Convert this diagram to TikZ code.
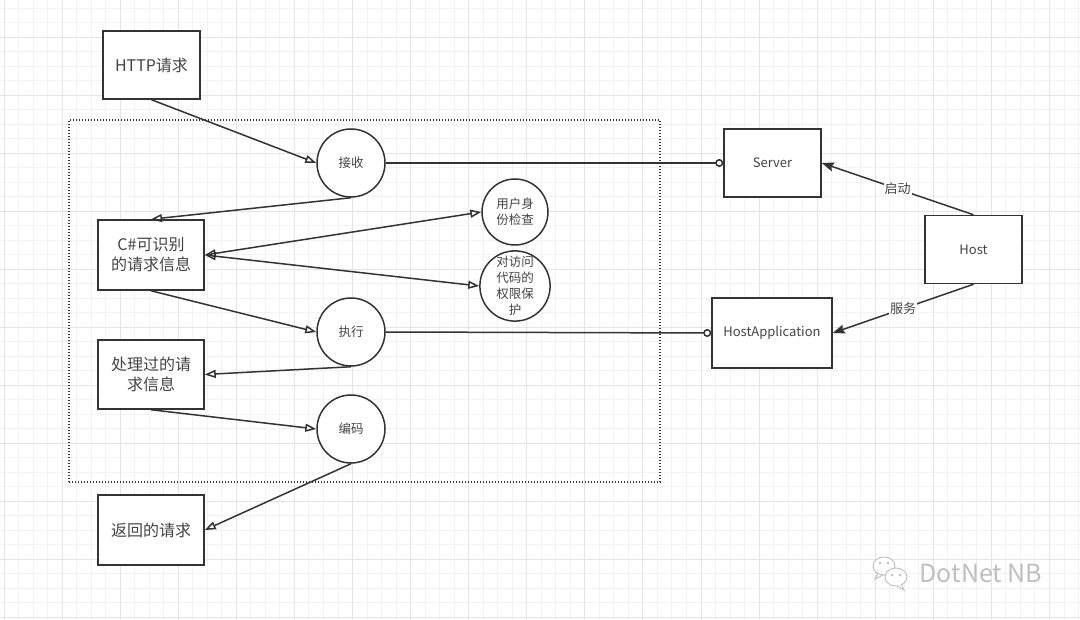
\documentclass[tikz,border=0pt]{standalone}
\usepackage{fontspec}
\setmainfont{Noto Sans CJK SC}
\usetikzlibrary{arrows.meta}
\definecolor{ink}{HTML}{333333}
\definecolor{txt}{HTML}{444444}
\definecolor{gminor}{HTML}{F2F2F2}
\definecolor{gmajor}{HTML}{E4E4E4}
\begin{document}
\begin{tikzpicture}[x=1pt,y=-1pt,
  box/.style={draw=ink, line width=1.5pt, fill=white, text=txt, inner sep=0pt, align=center},
  bigbox/.style={box, minimum width=106, minimum height=70, font=\fontsize{16}{20}\selectfont},
  sbox/.style={box, minimum width=97, minimum height=68, font=\fontsize{13}{16}\selectfont},
  proc/.style={circle, draw=ink, line width=1.5pt, fill=white, text=txt, inner sep=0pt, minimum size=68, align=center, font=\fontsize{12.5}{16}\selectfont},
  flow/.style={draw=ink, line width=1.5pt, -{Triangle[open, length=11pt, width=8pt]}},
  both/.style={draw=ink, line width=1.5pt, {Triangle[open, length=11pt, width=8pt]}-{Triangle[open, length=11pt, width=8pt]}},
  link/.style={draw=ink, line width=1.5pt, -{Circle[open, length=8pt]}},
  push/.style={draw=ink, line width=1.5pt, -{Stealth[inset=1.5pt, length=12pt, width=9pt]}},
  lbl/.style={fill=white, inner sep=1pt, text=txt, font=\fontsize{13}{15}\selectfont},
  frame/.style={draw=ink, line width=1.4pt, dash pattern=on 1.4pt off 1.6pt}
]
\useasboundingbox (0,0) rectangle (1080,620);
\fill[white] (0,0) rectangle (1080,620);
% grid
\foreach \i in {0,...,74} { \draw[gminor, line width=0.9pt] ({4+14.52*\i},0) -- ({4+14.52*\i},620); }
\foreach \j in {0,...,42} { \draw[gminor, line width=0.9pt] (0,{8.3+14.5*\j}) -- (1080,{8.3+14.5*\j}); }
\foreach \i in {0,4,...,72} { \draw[gmajor, line width=0.9pt] ({4+14.52*\i},0) -- ({4+14.52*\i},620); }
\foreach \j in {2,6,...,42} { \draw[gmajor, line width=0.9pt] (0,{8.3+14.5*\j}) -- (1080,{8.3+14.5*\j}); }

% dotted frame
\node[frame, minimum width=591, minimum height=362, inner sep=0pt] (frm) at (364.5,301) {};

% nodes
\node[bigbox, minimum width=97, minimum height=68] (http) at (151.5,65) {HTTP请求};
\node[proc] (recv) at (351,163) {接收};
\node[bigbox] (cs) at (151,255) {C\#可识别\\的请求信息};
\node[proc, minimum size=66] (auth) at (515,212) {用户身\\份检查};
\node[proc, minimum size=66] (perm) at (515,286) {\fontsize{12.5}{16.5}\selectfont 对访问\\代码的\\权限保\\护};
\node[proc] (exec) at (351,332) {执行};
\node[bigbox, minimum height=69] (done) at (151,374.5) {处理过的请\\求信息};
\node[proc] (enc) at (351,429) {编码};
\node[bigbox] (ret) at (151,530) {返回的请求};
\node[sbox] (server) at (772.5,163) {Server};
\node[sbox] (host) at (973.5,249.5) {Host};
\node[sbox, minimum width=120, minimum height=70] (happ) at (772,333) {HostApplication};

% connectors
\draw[flow] (http.south) -- (recv.west);
\draw[flow] (recv.south) -- (cs.north);
\draw[both] (cs.east) -- (auth.west);
\draw[both] (cs.east) -- (perm.west);
\draw[flow] (cs.south) -- (exec.west);
\draw[flow] (exec.south) -- (done.east);
\draw[flow] (done.south) -- (enc.west);
\draw[flow] (enc.south) -- (ret.east);
\draw[link] (recv.east) -- (server.west);
\draw[link] (exec.east) -- (happ.west);
\draw[push] (host.north) -- node[lbl] {启动} (server.east);
\draw[push] (host.south) -- node[lbl] {服务} (happ.east);

% watermark
\draw[gray!50, line width=0.9pt, fill=white] (884,566) ellipse [x radius=11, y radius=9];
\draw[gray!50, line width=0.9pt] (878,573) -- (875,579) -- (883,575);
\fill[gray!50] (880,563) circle (1.3) (888,563) circle (1.3);
\draw[gray!50, line width=0.9pt, fill=white] (896,577) ellipse [x radius=11, y radius=9];
\draw[gray!50, line width=0.9pt, fill=white] (901,584) -- (904,590) -- (897,586);
\fill[gray!50] (892,575) circle (1.3) (900,575) circle (1.3);
\node[text=gray!50, font=\fontsize{25}{28}\selectfont, inner sep=0pt] (wm) at (981,573) {DotNet NB};
\end{tikzpicture}
\end{document}
